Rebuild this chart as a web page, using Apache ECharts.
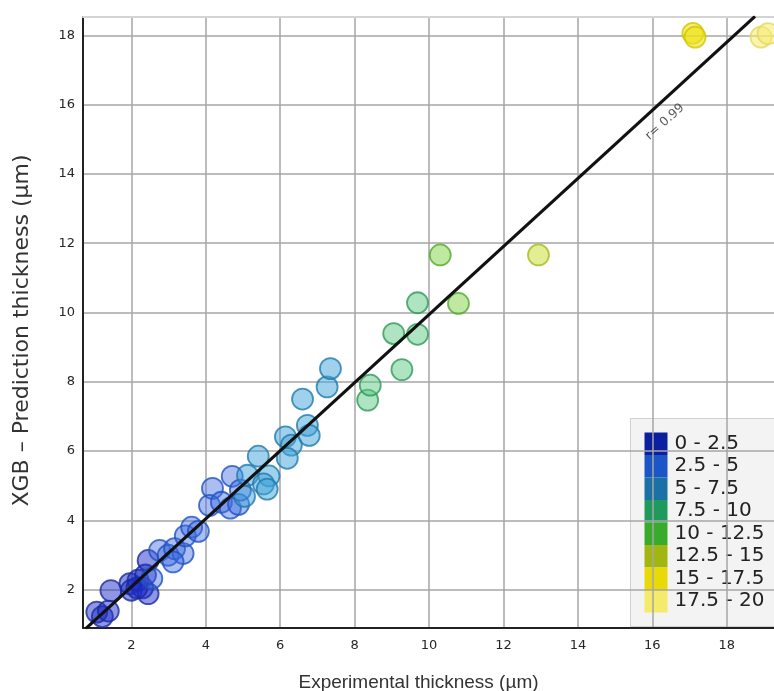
<!DOCTYPE html>
<html>
<head>
<meta charset="utf-8">
<script src="https://cdn.jsdelivr.net/npm/echarts@6.0.0/dist/echarts.min.js"></script>
<style>
  html, body { margin: 0; padding: 0; background: #ffffff; }
  #chart { width: 774px; height: 691px; }
</style>
</head>
<body>
<div id="chart"></div>
<script>
// Experimental vs XGB-predicted coating thickness (µm)
const experimental = [
  1.07, 1.22, 1.38, 1.45, 1.96, 2.00, 2.18, 2.30, 2.45, 2.38, 2.45, 2.15,
  2.55, 2.76, 2.99, 3.16, 3.39, 3.12, 3.45, 3.62, 3.80, 4.18, 4.10, 4.42, 4.66, 4.88, 4.71, 4.93,
  5.04, 5.12, 5.41, 5.70, 5.55, 5.65, 6.14, 6.30, 6.19, 6.73, 6.78, 6.60, 7.26, 7.35,
  8.35, 8.42, 9.27, 9.05, 9.69, 9.69,
  10.30, 10.79,
  12.94,
  17.09, 17.15,
  18.92, 19.11
];
const predicted = [
  1.35, 1.22, 1.38, 1.97, 2.17, 1.98, 2.27, 2.05, 1.88, 2.42, 2.84, 2.05,
  2.32, 3.13, 2.99, 3.18, 3.04, 2.80, 3.55, 3.80, 3.68, 4.92, 4.43, 4.52, 4.35, 4.46, 5.27, 4.87,
  4.69, 5.30, 5.85, 5.28, 5.05, 4.90, 6.41, 6.17, 5.79, 6.74, 6.45, 7.50, 7.85, 8.38,
  7.47, 7.90, 8.35, 9.39, 9.37, 10.28,
  11.66, 10.26,
  11.66,
  18.06, 17.95,
  17.95, 18.05
];

// Fitted line end points and its correlation label
const fitLine = [[0.78, 0.88], [18.76, 18.55]];
const fitLabelPos = [16.34, 15.5];
const fitLabelText = 'r= 0.99';

// Colour classes of the experimental thickness
const classBreaks = [0, 2.5, 5, 7.5, 10, 12.5, 15, 17.5, 20];
const classLabels = ['0 - 2.5', '2.5 - 5', '5 - 7.5', '7.5 - 10', '10 - 12.5', '12.5 - 15', '15 - 17.5', '17.5 - 20'];

// Axis tick values
const xTicks = [2, 4, 6, 8, 10, 12, 14, 16, 18];
const yTicks = [2, 4, 6, 8, 10, 12, 14, 16, 18];

// Styles
const classColors = ['#0c1f9e', '#1b55c6', '#1b70a6', '#1f9a5c', '#38aa2c', '#a2b612', '#e8da08', '#f6ea6a'];
const pointFills = [
  'rgba(28, 44, 200, 0.62)',
  'rgba(62, 108, 226, 0.55)',
  'rgba(62, 162, 216, 0.62)',
  'rgba(92, 200, 132, 0.62)',
  'rgba(136, 214, 82, 0.68)',
  'rgba(204, 226, 64, 0.72)',
  'rgba(236, 226, 20, 0.75)',
  'rgba(246, 236, 112, 0.7)'
];
const pointBorders = ['#1a2a9e', '#2150c0', '#1f7aab', '#2e9a58', '#55a830', '#a8b820', '#d2c600', '#e4d860'];

function classOf(v) {
  for (let i = 0; i < classLabels.length; i++) {
    if (v >= classBreaks[i] && v < classBreaks[i + 1]) return i;
  }
  return classLabels.length - 1;
}

const points = experimental.map((x, i) => {
  const c = classOf(x);
  return {
    value: [x, predicted[i]],
    itemStyle: { color: pointFills[c], borderColor: pointBorders[c], borderWidth: 1.8 }
  };
});

const chart = echarts.init(document.getElementById('chart'), null, { renderer: 'canvas' });

const tickFont = { fontFamily: 'DejaVu Sans', fontSize: 13, color: '#262626' };

chart.setOption({
  animation: false,
  backgroundColor: '#ffffff',
  grid: { left: 83, top: 17, right: 0, bottom: 63, outerBoundsMode: 'none' },
  xAxis: [
    {
      type: 'value',
      min: 0.7,
      max: 19.27,
      name: 'Experimental thickness (µm)',
      nameLocation: 'middle',
      nameGap: 45,
      nameTextStyle: { fontFamily: 'Liberation Sans', fontSize: 19, color: '#333', padding: [0, 20, 0, 0] },
      axisLine: { lineStyle: { color: '#222', width: 2 } },
      axisTick: { show: false, customValues: xTicks },
      axisLabel: Object.assign({ customValues: xTicks, margin: 11 }, tickFont),
      splitLine: { show: true, lineStyle: { color: '#a6a6a6', width: 1.5 } }
    },
    {
      type: 'value',
      position: 'top',
      min: 0.7,
      max: 19.27,
      axisLine: { show: true, lineStyle: { color: '#d4d4d4', width: 2 } },
      axisTick: { show: false },
      axisLabel: { show: false },
      splitLine: { show: false }
    }
  ],
  yAxis: {
    type: 'value',
    min: 0.89,
    max: 18.53,
    name: 'XGB – Prediction thickness (µm)',
    nameLocation: 'middle',
    nameGap: 50,
    nameTextStyle: { fontFamily: 'DejaVu Sans', fontSize: 22, color: '#333', padding: [0, 16, 0, 0] },
    axisLine: { show: true, lineStyle: { color: '#222', width: 2 } },
    axisTick: { show: false, customValues: yTicks },
    axisLabel: Object.assign({ customValues: yTicks, margin: 8 }, tickFont),
    splitLine: { show: true, lineStyle: { color: '#a6a6a6', width: 1.5 } }
  },
  visualMap: {
    type: 'piecewise',
    seriesIndex: [],
    dimension: 0,
    orient: 'vertical',
    inverse: true,
    align: 'left',
    left: 630,
    top: 418,
    padding: [14, 12, 14, 14],
    backgroundColor: '#f3f3f3',
    borderColor: '#cfcfcf',
    borderWidth: 1,
    itemWidth: 23,
    itemHeight: 22.5,
    itemGap: 0,
    itemSymbol: 'rect',
    textGap: 7,
    selectedMode: false,
    hoverLink: false,
    z: -1,
    textStyle: { fontFamily: 'DejaVu Sans', fontSize: 20, color: '#222' },
    pieces: classLabels.map((label, i) => ({
      gte: classBreaks[i],
      lt: classBreaks[i + 1],
      label: label,
      color: classColors[i]
    }))
  },
  series: [
    {
      type: 'scatter',
      symbolSize: 21,
      data: points,
      z: 2
    },
    {
      type: 'line',
      data: fitLine,
      symbol: 'none',
      lineStyle: { color: '#111', width: 3.2 },
      z: 3,
      silent: true
    },
    {
      type: 'scatter',
      symbolSize: 0,
      data: [fitLabelPos],
      silent: true,
      z: 4,
      label: {
        show: true,
        position: 'inside',
        formatter: fitLabelText,
        rotate: 42,
        fontFamily: 'DejaVu Sans',
        fontSize: 12.5,
        color: '#333'
      }
    }
  ]
});
</script>
</body>
</html>
